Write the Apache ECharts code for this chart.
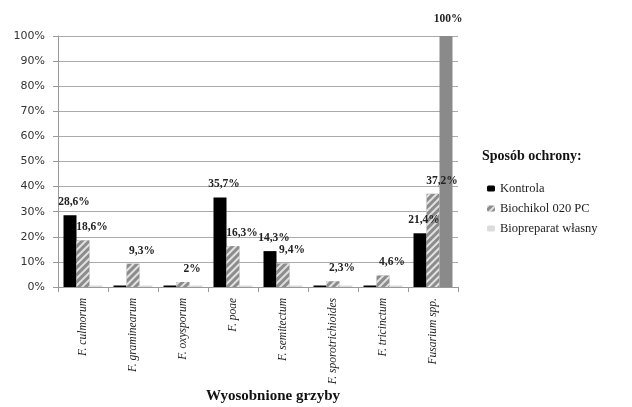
<!DOCTYPE html>
<html><head><meta charset="utf-8">
<script src="https://cdn.jsdelivr.net/npm/echarts@6/dist/echarts.min.js"></script>
<style>html,body{margin:0;padding:0;background:#fff}#c{width:632px;height:407px}</style>
</head><body><div id="c"></div>
<script>
const categories = ['F. culmorum','F. graminearum','F. oxysporum','F. poae','F. semitectum','F. sporotrichioides','F. tricinctum','Fusarium spp.'];
const yTicks = [0,10,20,30,40,50,60,70,80,90,100];
const seriesNames = ['Kontrola','Biochikol 020 PC','Biopreparat własny'];
const kontrola = [28.6, 0.6, 0.6, 35.7, 14.3, 0.6, 0.6, 21.4];
const biochikol = [18.6, 9.3, 2, 16.3, 9.4, 2.3, 4.6, 37.2];
const biopreparat = [0.6, 0.6, 0.6, 0.6, 0.6, 0.6, 0.6, 100];

const serif = '"Liberation Serif", "DejaVu Serif", serif';
function fmt(p){ const v=p.value; if (v < 1) return ''; return String(v).replace('.', ',') + '%'; }
const chart = echarts.init(document.getElementById('c'));
chart.setOption({
  animation:false,
  grid:{left:58, right:174, top:36, bottom:120},
  legend:{orient:'vertical', left:482, top:177, itemWidth:8, itemHeight:6, itemGap:7,
    textStyle:{fontFamily:serif, fontSize:12.5, color:'#222'}, data:seriesNames},
  graphic:[
    {type:'text', left:482, top:149, style:{text:'Sposób ochrony:', font:'bold 14px '+serif, fill:'#111'}},
    {type:'text', left:206, top:389, style:{text:'Wyosobnione grzyby', font:'bold 15px '+serif, fill:'#111'}}
  ],
  xAxis:{type:'category', data:categories,
    axisLine:{lineStyle:{color:'#999'}}, axisTick:{show:true, lineStyle:{color:'#999'}},
    axisLabel:{rotate:90, interval:0, fontFamily:serif, fontStyle:'italic', fontSize:11.5, color:'#222', margin:11}},
  yAxis:{type:'value', min:0, max:100, interval:10,
    axisLine:{show:true, lineStyle:{color:'#999'}}, axisTick:{show:true, lineStyle:{color:'#999'}},
    axisLabel:{formatter: v => yTicks.includes(v) ? v+'%' : '', fontFamily:'"DejaVu Sans", sans-serif', fontSize:11, color:'#333', margin:13},
    splitLine:{lineStyle:{color:'#aaa', width:1}}},
  series:[
    {name:seriesNames[0], type:'bar', data:kontrola, barWidth:13, barGap:'0%',
      itemStyle:{color:'#000'},
      label:{show:true, position:'top', offset:[4,-2], formatter:fmt, fontFamily:serif, fontWeight:'bold', fontSize:11.5, color:'#222'}},
    {name:seriesNames[1], type:'bar', data:biochikol, barWidth:13,
      itemStyle:{color:'#8c8c8c', decal:{symbol:'rect', dashArrayX:[1,0], dashArrayY:[2,3], rotation:-Math.PI/4, color:'rgba(255,255,255,0.75)'}},
      label:{show:true, position:'top', offset:[9,-2], formatter:fmt, fontFamily:serif, fontWeight:'bold', fontSize:11.5, color:'#222'}},
    {name:seriesNames[2], type:'bar', data:biopreparat.map((v,i)=> v>50 ? {value:v, itemStyle:{color:'#8a8a8a'}} : v), barWidth:13,
      itemStyle:{color:'#dcdcdc'},
      label:{show:true, position:'top', offset:[2,-6], formatter:fmt, fontFamily:serif, fontWeight:'bold', fontSize:11.5, color:'#222'}}
  ]
});
</script></body></html>
